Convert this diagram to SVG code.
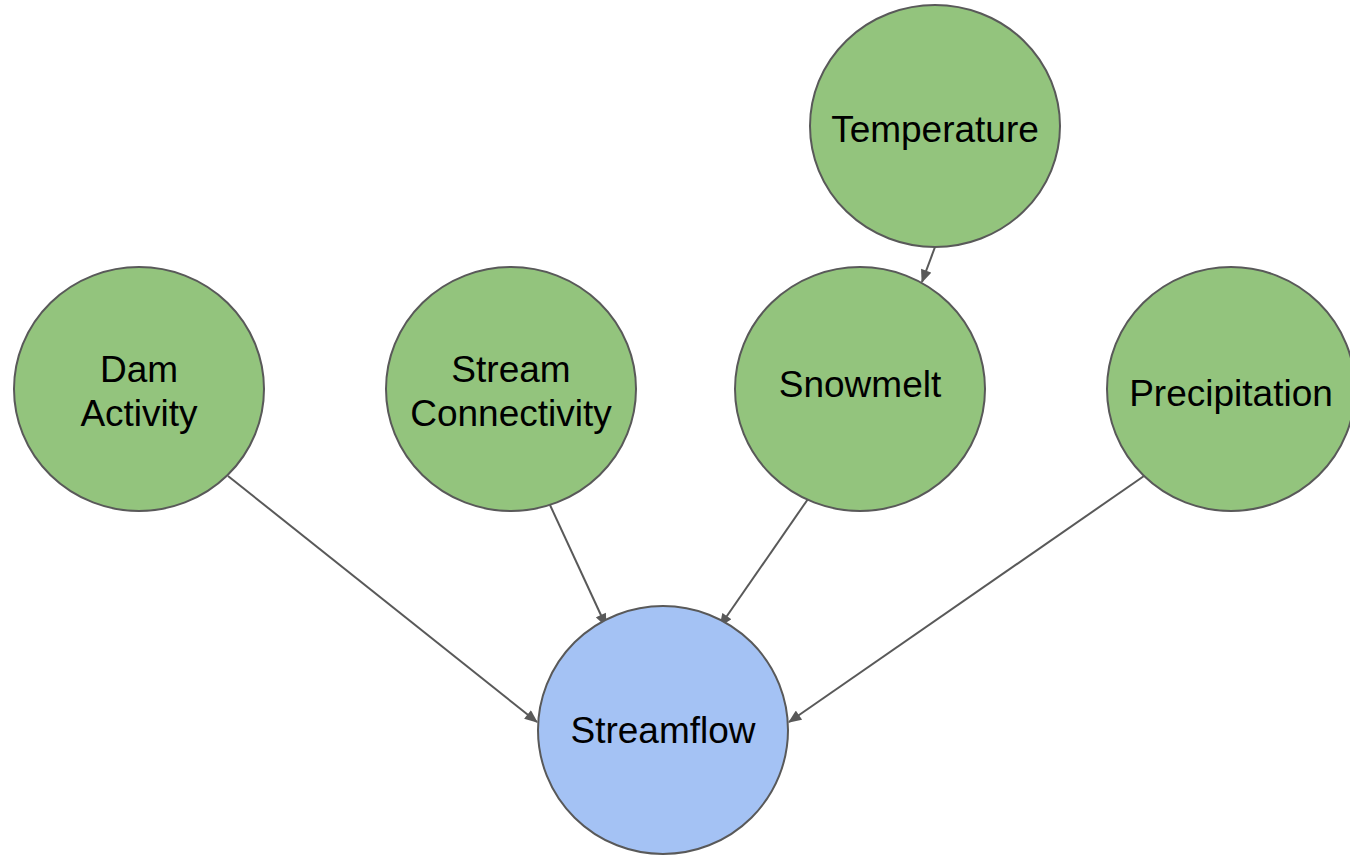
<svg xmlns="http://www.w3.org/2000/svg" width="1350" height="856" viewBox="0 0 1350 856">
<style>
.g{fill:#93c47d;stroke:#595959;stroke-width:2}
.b{fill:#a4c2f4;stroke:#595959;stroke-width:2}
.t{font-family:"Liberation Sans",Arial,sans-serif;font-size:37px;fill:#000;text-anchor:middle}
.c{stroke:#595959;stroke-width:2;fill:none;marker-end:url(#ah)}
</style>
<defs>
<marker id="ah" viewBox="0 0 12 10" refX="11" refY="5" markerWidth="7" markerHeight="5.5" orient="auto" markerUnits="strokeWidth">
<path d="M0,0 L12,5 L0,10 z" fill="#595959"/>
</marker>
</defs>
<rect width="1350" height="856" fill="#fff"/>
<g id="connectors">
<line class="c" x1="228" y1="476" x2="537" y2="722"/>
<line class="c" x1="550" y1="505" x2="606" y2="626"/>
<line class="c" x1="808" y1="499" x2="720" y2="626"/>
<line class="c" x1="1144" y1="476" x2="789" y2="722"/>
<line class="c" x1="935" y1="247" x2="922" y2="282"/>
</g>
<g id="temperature">
<ellipse class="g" cx="935" cy="126" rx="125" ry="121"/>
<text class="t" x="935" y="142">Temperature</text>
</g>
<g id="dam-activity">
<ellipse class="g" cx="139" cy="389" rx="125" ry="122"/>
<text class="t" x="139" y="382">Dam</text>
<text class="t" x="139" y="426">Activity</text>
</g>
<g id="stream-connectivity">
<ellipse class="g" cx="511" cy="389" rx="125" ry="122"/>
<text class="t" x="511" y="382">Stream</text>
<text class="t" x="511" y="426">Connectivity</text>
</g>
<g id="snowmelt">
<ellipse class="g" cx="860" cy="389" rx="125" ry="122"/>
<text class="t" x="860" y="397">Snowmelt</text>
</g>
<g id="precipitation">
<ellipse class="g" cx="1231" cy="389" rx="124" ry="122"/>
<text class="t" x="1231" y="406">Precipitation</text>
</g>
<g id="streamflow">
<ellipse class="b" cx="663" cy="730" rx="125" ry="124"/>
<text class="t" x="663" y="743">Streamflow</text>
</g>
</svg>
